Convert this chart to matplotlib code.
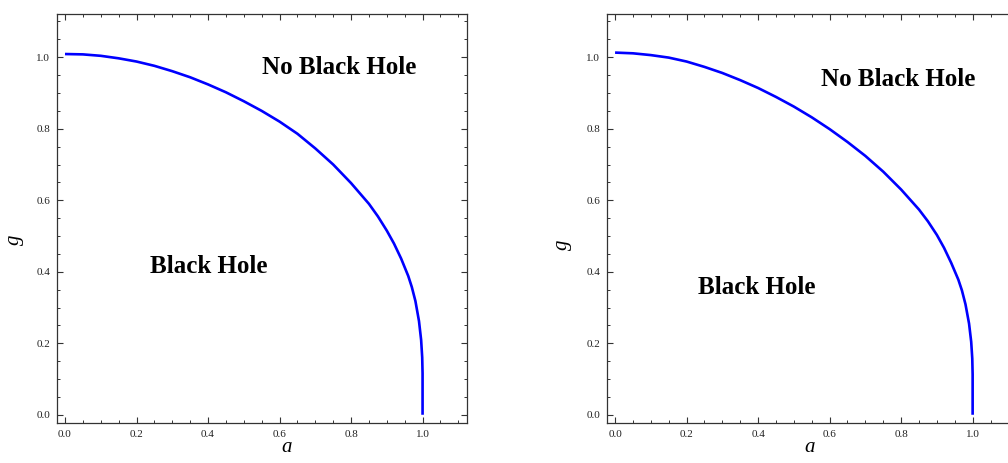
import numpy as np
import matplotlib.pyplot as plt
from matplotlib.ticker import MultipleLocator

# boundary curve
a_left = [0.0, 0.05, 0.1, 0.15, 0.2, 0.25, 0.3, 0.35, 0.4, 0.45, 0.5, 0.55,
          0.6, 0.65, 0.7, 0.75, 0.8, 0.85, 0.875, 0.9, 0.92, 0.94, 0.96,
          0.97, 0.98, 0.99, 0.996, 0.999, 1.0, 1.0]
g_left = [1.009, 1.008, 1.004, 0.997, 0.988, 0.976, 0.961, 0.944, 0.924,
          0.902, 0.877, 0.850, 0.820, 0.786, 0.745, 0.700, 0.648, 0.590,
          0.555, 0.515, 0.479, 0.437, 0.388, 0.357, 0.318, 0.262, 0.209,
          0.160, 0.116, 0.0]

# boundary curve
a_right = [0.0, 0.05, 0.1, 0.15, 0.2, 0.25, 0.3, 0.35, 0.4, 0.45, 0.5, 0.55,
           0.6, 0.65, 0.7, 0.75, 0.8, 0.85, 0.875, 0.9, 0.92, 0.94, 0.96,
           0.97, 0.98, 0.99, 0.996, 0.999, 1.0, 1.0]
g_right = [1.013, 1.011, 1.006, 0.999, 0.988, 0.973, 0.956, 0.936, 0.914,
           0.889, 0.862, 0.832, 0.799, 0.763, 0.724, 0.680, 0.630, 0.574,
           0.541, 0.503, 0.467, 0.425, 0.378, 0.348, 0.309, 0.255, 0.204,
           0.157, 0.113, 0.0]

tick_vals = [0.0, 0.2, 0.4, 0.6, 0.8, 1.0]

plt.rcParams['font.family'] = ['Liberation Serif', 'DejaVu Serif']
plt.rcParams['mathtext.fontset'] = 'custom'
plt.rcParams['mathtext.it'] = 'Liberation Serif:italic'

fig = plt.figure(figsize=(10.08, 4.63), dpi=100)
ax1 = fig.add_axes([0.0565, 0.0864, 0.4067, 0.8834])
ax2 = fig.add_axes([0.6022, 0.0864, 0.4067, 0.8834])

panels = [
    (ax1, a_left, g_left, (0.766, 0.972), (0.402, 0.416), (0.561, -0.036), (-0.075, 0.447)),
    (ax2, a_right, g_right, (0.792, 0.937), (0.396, 0.357), (0.495, -0.036), (-0.08, 0.435)),
]

for ax, a, g, nbh, bh, xl, yl in panels:
    ax.plot(a, g, color='#0000ff', lw=1.9, solid_capstyle='butt', solid_joinstyle='round')
    ax.set_xlim(-0.0225, 1.124)
    ax.set_ylim(-0.023, 1.121)
    ax.set_xticks(tick_vals)
    ax.set_yticks(tick_vals)
    ax.set_xticklabels(['%.1f' % v for v in tick_vals])
    ax.set_yticklabels(['%.1f' % v for v in tick_vals])
    ax.xaxis.set_minor_locator(MultipleLocator(0.05))
    ax.yaxis.set_minor_locator(MultipleLocator(0.05))
    ax.tick_params(which='both', direction='in', top=True, right=True,
                   color='#333333', labelsize=8, labelcolor='#222222')
    ax.tick_params(which='major', length=4.5, width=0.8, pad=5)
    ax.tick_params(which='minor', length=2.5, width=0.7)
    for s in ax.spines.values():
        s.set_color('#333333')
        s.set_linewidth(0.9)
    ax.text(nbh[0], nbh[1], 'No Black Hole', fontsize=18, fontweight='bold',
            ha='center', va='center')
    ax.text(bh[0], bh[1], 'Black Hole', fontsize=18, fontweight='bold',
            ha='center', va='center')
    ax.set_xlabel('$a$', fontsize=15)
    ax.set_ylabel('$g$', fontsize=15)
    ax.xaxis.set_label_coords(*xl)
    ax.yaxis.set_label_coords(*yl)

fig.savefig('out.png', dpi=100)
